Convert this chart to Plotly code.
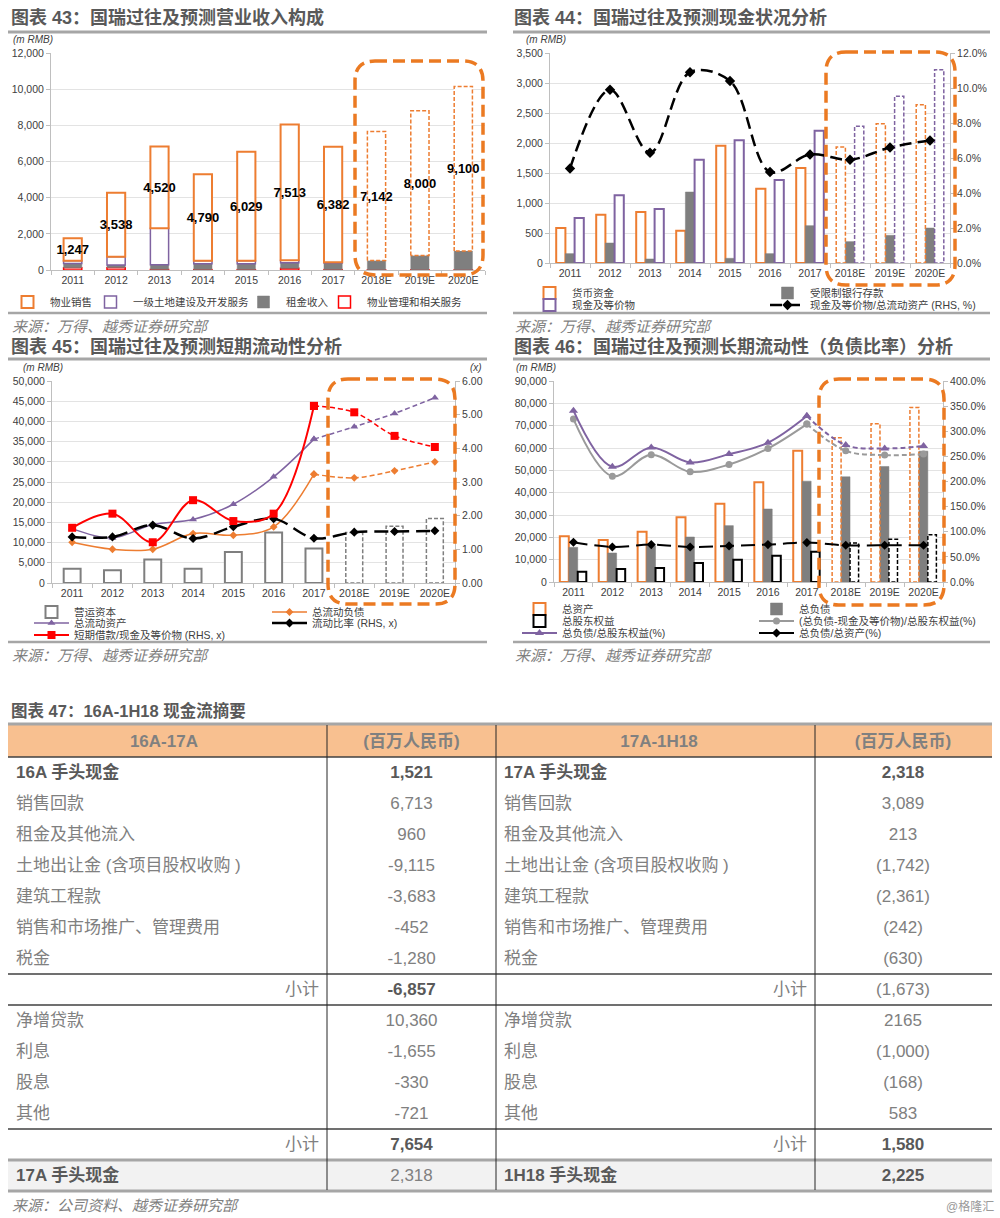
import numpy as np
import plotly.graph_objects as go

W, H = 1000, 1218
CJK = "Liberation Sans, Noto Sans CJK SC"
LAT = "Liberation Sans, Noto Sans CJK SC"
ORANGE = "#ED7D31"
PURPLE = "#7F63A1"
GRAY = "#7F7F7F"
LGRAY = "#9A9A9A"
RED = "#FF0000"
HILITE = "#EB7A22"
TXT = "#404040"

# ---------------- data ----------------
years = ["2011", "2012", "2013", "2014", "2015", "2016", "2017", "2018E", "2019E", "2020E"]

# 图表43 营业收入构成 (m RMB)
sales_43 = [1247, 3538, 4520, 4790, 6029, 7513, 6382, 7142, 8000, 9100]
land_43 = [150, 455, 2015, 158, 156, 136, 40, 0, 0, 0]
rent_43 = [240, 150, 260, 330, 330, 310, 370, 509, 796, 1044]
mgmt_43 = [120, 130, 30, 20, 20, 90, 20, 10, 10, 10]

# 图表44 现金状况 (m RMB, %)
money_44 = [583, 806, 850, 539, 1956, 1239, 1583, 1933, 2322, 2639]
restricted_44 = [156, 333, 67, 1183, 78, 156, 622, 356, 461, 583]
cash_44 = [750, 1128, 900, 1722, 2044, 1383, 2206, 2278, 2778, 3222]
cash_ratio_44 = [5.4, 9.9, 6.3, 10.9, 10.4, 5.2, 6.2, 5.9, 6.6, 7.0]

# 图表45 短期流动性 (m RMB, x)
wc_45 = [3550, 3140, 5790, 3550, 7690, 12480, 8510, 12470, 14040, 15940]
cl_45 = [10080, 8350, 8350, 12230, 11820, 13880, 26940, 26030, 27770, 30000]
ca_45 = [13470, 11160, 14460, 15700, 19500, 26280, 35620, 38680, 41980, 45870]
stb_45 = [1.64, 2.06, 1.21, 2.46, 1.84, 2.06, 5.26, 5.07, 4.37, 4.04]
cr_45 = [1.37, 1.37, 1.72, 1.32, 1.67, 1.91, 1.33, 1.51, 1.53, 1.55]

# 图表46 长期流动性 (m RMB, %)
ta_46 = [20450, 18810, 22540, 28960, 35080, 44640, 58750, 64580, 70860, 78190]
tl_46 = [15530, 12990, 16270, 20150, 25230, 32700, 45150, 47090, 51730, 58600]
te_46 = [4630, 5820, 6270, 8510, 10000, 11790, 13500, 17470, 19110, 21200]
de_46 = [340.9, 229.2, 267.8, 237.9, 254.5, 277.1, 330.2, 272.4, 265.8, 270.4]
nde_46 = [324.3, 210.6, 253.2, 219.3, 233.9, 265.8, 314.3, 261.1, 252.5, 254.5]
da_46 = [79.1, 69.8, 74.4, 69.8, 71.8, 74.4, 78.4, 73.1, 73.1, 73.1]

# 图表47 现金流摘要
tbl_header = ["16A-17A", "(百万人民币)", "17A-1H18", "(百万人民币)"]
tbl_left_items = ["16A 手头现金", "销售回款", "租金及其他流入", "土地出让金 (含项目股权收购 )", "建筑工程款",
                  "销售和市场推广、管理费用", "税金", "小计", "净增贷款", "利息", "股息", "其他", "小计", "17A 手头现金"]
tbl_left_values = ["1,521", "6,713", "960", "-9,115", "-3,683", "-452", "-1,280", "-6,857",
                   "10,360", "-1,655", "-330", "-721", "7,654", "2,318"]
tbl_right_items = ["17A 手头现金", "销售回款", "租金及其他流入", "土地出让金 (含项目股权收购 )", "建筑工程款",
                   "销售和市场推广、管理费用", "税金", "小计", "净增贷款", "利息", "股息", "其他", "小计", "1H18 手头现金"]
tbl_right_values = ["2,318", "3,089", "213", "(1,742)", "(2,361)", "(242)", "(630)", "(1,673)",
                    "2165", "(1,000)", "(168)", "583", "1,580", "2,225"]

# ---------------- helpers ----------------
idx = np.arange(len(years))
ACT = slice(0, 7)
FC = slice(7, 10)
FCL = slice(6, 10)


def PX(p):
    return p / W


def PY(p):
    return 1 - p / H


fig = go.Figure()
legends = {}


def new_legend(text_x, y_px, itemw=35):
    k = len(legends) + 1
    key = "legend" if k == 1 else f"legend{k}"
    legends[key] = dict(x=PX(text_x - itemw - 8), y=PY(y_px), xanchor="left", yanchor="middle",
                        orientation="h", bgcolor="rgba(0,0,0,0)", borderwidth=0, itemwidth=itemw,
                        font=dict(size=10.5, color=TXT, family=CJK), tracegroupgap=0,
                        itemclick=False, itemdoubleclick=False)
    return key


def bar(x, y, xa, ya, off, w, fill, lc, lw, name=None, leg=None, base=None, text=None):
    kw = {}
    if text is not None:
        kw = dict(text=text, textposition="inside", insidetextanchor="middle", textangle=0,
                  constraintext="none", textfont=dict(size=13, color="black", family=LAT, weight="bold"))
    fig.add_trace(go.Bar(x=x, y=y, base=base, xaxis=xa, yaxis=ya, offset=off, width=w,
                         marker=dict(color=fill, line=dict(color=lc, width=lw)),
                         name=name, showlegend=leg is not None, legend=leg or "legend",
                         hoverinfo="skip", **kw))


def dashed_box(x, base, top, off, w, xa, ya, color, dash="4px,2px", lw=1.5):
    X, Y = [], []
    for xc, b, t in zip(x, base, top):
        X += [xc + off, xc + off, xc + off + w, xc + off + w, xc + off, None]
        Y += [b, t, t, b, b, None]
    fig.add_trace(go.Scatter(x=X, y=Y, xaxis=xa, yaxis=ya, mode="lines",
                             line=dict(color=color, width=lw, dash=dash),
                             showlegend=False, hoverinfo="skip"))


def line(x, y, xa, ya, color, width, dash, symbol, size, name=None, leg=None):
    fig.add_trace(go.Scatter(x=x, y=y, xaxis=xa, yaxis=ya, mode="lines+markers",
                             line=dict(color=color, width=width, dash=dash, shape="spline", smoothing=1.0),
                             marker=dict(symbol=symbol, size=size, color=color),
                             name=name, showlegend=leg is not None, legend=leg or "legend",
                             hoverinfo="skip"))


# ---------------- 图表43 ----------------
m43 = np.array(mgmt_43, float)
r43 = np.array(rent_43, float)
l43 = np.array(land_43, float)
s43 = np.array(sales_43, float)
b_r = m43
b_l = m43 + r43
b_s = m43 + r43 + l43
lab43 = [f"{v:,}" for v in sales_43]
W43, O43 = 0.42, -0.21
land_plot = [v if v > 0 else None for v in land_43]

bar(idx, m43, "x", "y", O43, W43, "white", RED, 1.5, "物业管理和相关服务", new_legend(365, 302))
bar(idx, r43, "x", "y", O43, W43, GRAY, GRAY, 0.5, "租金收入", new_legend(284, 302), base=b_r)
bar(idx, land_plot, "x", "y", O43, W43, "white", PURPLE, 1.5, "一级土地建设及开发服务", new_legend(131, 302), base=b_l)
bar(idx[ACT], s43[ACT], "x", "y", O43, W43, "white", ORANGE, 2, "物业销售", new_legend(48, 302),
    base=b_s[ACT], text=lab43[ACT])
bar(idx[FC], s43[FC], "x", "y", O43, W43, "white", "white", 0, base=b_s[FC], text=lab43[FC])
dashed_box(idx[FC], b_s[FC], (b_s + s43)[FC], O43, W43, "x", "y", ORANGE)

# ---------------- 图表44 ----------------
mo = np.array(money_44, float)
ca = np.array(cash_44, float)
zero = np.zeros(len(years))
bar(idx[ACT], mo[ACT], "x2", "y2", -0.345, 0.23, "white", ORANGE, 2, "货币资金", new_legend(570, 293))
bar(idx[FC], mo[FC], "x2", "y2", -0.345, 0.23, "white", "white", 0)
dashed_box(idx[FC], zero[FC], mo[FC], -0.345, 0.23, "x2", "y2", ORANGE)
bar(idx, restricted_44, "x2", "y2", -0.115, 0.23, GRAY, GRAY, 0.5, "受限制银行存款", new_legend(808, 293))
bar(idx[ACT], ca[ACT], "x2", "y2", 0.115, 0.23, "white", PURPLE, 2, "现金及等价物", new_legend(570, 305))
bar(idx[FC], ca[FC], "x2", "y2", 0.115, 0.23, "white", "white", 0)
dashed_box(idx[FC], zero[FC], ca[FC], 0.115, 0.23, "x2", "y2", PURPLE)
line(idx, cash_ratio_44, "x2", "y3", "black", 2.5, "12px,6px", "diamond", 8,
     "现金及等价物/总流动资产 (RHS, %)", new_legend(808, 305))

# ---------------- 图表45 ----------------
wc = np.array(wc_45, float)
bar(idx[ACT], wc[ACT], "x3", "y4", -0.21, 0.42, "white", GRAY, 2, "营运资本", new_legend(72, 612))
bar(idx[FC], wc[FC], "x3", "y4", -0.21, 0.42, "white", "white", 0)
dashed_box(idx[FC], zero[FC], wc[FC], -0.21, 0.42, "x3", "y4", GRAY)
cl = np.array(cl_45, float)
cas = np.array(ca_45, float)
line(idx[ACT], cl[ACT], "x3", "y4", ORANGE, 1.5, "solid", "diamond", 6, "总流动负债", new_legend(310, 612))
line(idx[FCL], cl[FCL], "x3", "y4", ORANGE, 1.5, "5px,3px", "diamond", 6)
line(idx[ACT], cas[ACT], "x3", "y4", PURPLE, 1.5, "solid", "triangle-up", 7, "总流动资产", new_legend(72, 623))
line(idx[FCL], cas[FCL], "x3", "y4", PURPLE, 1.5, "5px,3px", "triangle-up", 7)
line(idx, cr_45, "x3", "y5", "black", 2.5, "14px,7px", "diamond", 7, "流动比率 (RHS, x)", new_legend(310, 623))
stb = np.array(stb_45, float)
line(idx[ACT], stb[ACT], "x3", "y5", RED, 2, "solid", "square", 8, "短期借款/现金及等价物 (RHS, x)",
     new_legend(72, 635))
line(idx[FCL], stb[FCL], "x3", "y5", RED, 1.5, "5px,3px", "square", 8)

# ---------------- 图表46 ----------------
ta = np.array(ta_46, float)
te = np.array(te_46, float)
bar(idx[ACT], ta[ACT], "x4", "y6", -0.35, 0.23, "white", ORANGE, 2, "总资产", new_legend(560, 609))
bar(idx[FC], ta[FC], "x4", "y6", -0.35, 0.23, "white", "white", 0)
dashed_box(idx[FC], zero[FC], ta[FC], -0.35, 0.23, "x4", "y6", ORANGE)
bar(idx, tl_46, "x4", "y6", -0.12, 0.23, GRAY, GRAY, 0.5, "总负债", new_legend(797, 609))
bar(idx[ACT], te[ACT], "x4", "y6", 0.11, 0.22, "white", "black", 2, "总股东权益", new_legend(560, 621))
bar(idx[FC], te[FC], "x4", "y6", 0.11, 0.22, "white", "white", 0)
dashed_box(idx[FC], zero[FC], te[FC], 0.11, 0.22, "x4", "y6", "black")
nde = np.array(nde_46, float)
de = np.array(de_46, float)
line(idx[ACT], nde[ACT], "x4", "y7", LGRAY, 2, "solid", "circle", 7, "(总负债-现金及等价物)/总股东权益(%)",
     new_legend(797, 621))
line(idx[FCL], nde[FCL], "x4", "y7", LGRAY, 2, "5px,3px", "circle", 7)
line(idx[ACT], de[ACT], "x4", "y7", PURPLE, 2, "solid", "triangle-up", 8, "总负债/总股东权益(%)",
     new_legend(560, 633))
line(idx[FCL], de[FCL], "x4", "y7", PURPLE, 2, "5px,3px", "triangle-up", 8)
line(idx, da_46, "x4", "y7", "black", 2, "14px,7px", "diamond", 7, "总负债/总资产(%)", new_legend(797, 633))

# ---------------- 图表47 table (regular layer + bold layer, no markup) ----------------
bold_label_rows = {0, 13}
bold_lval_rows = {0, 7, 12}
bold_rval_rows = {0, 12, 13}
n_rows = len(tbl_left_items)


def split(vals, rows):
    reg = [("" if i in rows else v) for i, v in enumerate(vals)]
    bld = [(v if i in rows else "") for i, v in enumerate(vals)]
    return reg, bld


labL_all = ["" if t == "小计" else t for t in tbl_left_items]
labR_all = ["" if t == "小计" else t for t in tbl_right_items]
subL = ["小计" if t == "小计" else "" for t in tbl_left_items]
subR = ["小计" if t == "小计" else "" for t in tbl_right_items]
labL_r, labL_b = split(labL_all, bold_label_rows)
labR_r, labR_b = split(labR_all, bold_label_rows)
valL_r, valL_b = split(tbl_left_values, bold_lval_rows)
valR_r, valR_b = split(tbl_right_values, bold_rval_rows)
blank = [""] * n_rows

DARK, LIGHT = "#595959", "#808080"
nb = "\u00a0"
hdr = [nb * 8 + tbl_header[0], "", tbl_header[1], nb * 11 + tbl_header[2], "", tbl_header[3]]

TBL_DOMAIN = dict(x=[PX(8), PX(991)], y=[PY(1200), PY(726)])
COLW = [274, 45, 169, 274, 45, 176]
ALIGN = ["left", "right", "center", "left", "right", "center"]
CLEAR = dict(color="rgba(0,0,0,0)")
NOLINE = dict(color="rgba(0,0,0,0)", width=0)

fig.add_trace(go.Table(
    domain=TBL_DOMAIN, columnwidth=COLW,
    header=dict(values=hdr, height=31, fill=CLEAR, line=NOLINE,
                font=dict(size=17, color=LIGHT, family=CJK, weight="bold"), align="center"),
    cells=dict(values=[labL_r, subL, valL_r, labR_r, subR, valR_r], height=31,
               fill=CLEAR, line=NOLINE, align=ALIGN,
               font=dict(size=17, family=CJK, color=LIGHT)),
))
fig.add_trace(go.Table(
    domain=TBL_DOMAIN, columnwidth=COLW,
    header=dict(values=[""] * 6, height=31, fill=CLEAR, line=NOLINE,
                font=dict(size=17, color=LIGHT, family=CJK)),
    cells=dict(values=[labL_b, blank, valL_b, labR_b, blank, valR_b], height=31,
               fill=CLEAR, line=NOLINE, align=ALIGN,
               font=dict(size=17, family=CJK, color=DARK, weight="bold")),
))

# ---------------- layout ----------------


def xax(d0, d1, anchor):
    return dict(domain=[PX(d0), PX(d1)], anchor=anchor, range=[-0.5, 9.5], tickmode="array",
                tickvals=list(idx), ticktext=years, showgrid=False, zeroline=False, showline=True,
                linecolor="#BFBFBF", linewidth=1, ticks="", tickfont=dict(size=10.5, color=TXT, family=LAT),
                minor=dict(ticks="outside", ticklen=4, tickcolor="#BFBFBF", tick0=-0.5, dtick=1),
                fixedrange=True)


def yax(anchor, rng, dtick, fmt, suffix="", dom=None, side="left", overlay=None, grid=True):
    d = dict(anchor=anchor, range=rng, dtick=dtick, tick0=0, tickformat=fmt, ticksuffix=suffix, side=side,
             showgrid=grid, gridcolor="#E3E3E3", gridwidth=1, zeroline=False, showline=True,
             linecolor="#BFBFBF", ticks="outside", ticklen=4, tickcolor="#BFBFBF",
             tickfont=dict(size=10.5, color=TXT, family=LAT), fixedrange=True)
    if dom:
        d["domain"] = [PY(dom[1]), PY(dom[0])]
    if overlay:
        d["overlaying"] = overlay
    return d


def rrect(x0, y0, x1, y1, r):
    return (f"M {PX(x0 + r)},{PY(y0)} L {PX(x1 - r)},{PY(y0)} Q {PX(x1)},{PY(y0)} {PX(x1)},{PY(y0 + r)} "
            f"L {PX(x1)},{PY(y1 - r)} Q {PX(x1)},{PY(y1)} {PX(x1 - r)},{PY(y1)} "
            f"L {PX(x0 + r)},{PY(y1)} Q {PX(x0)},{PY(y1)} {PX(x0)},{PY(y1 - r)} "
            f"L {PX(x0)},{PY(y0 + r)} Q {PX(x0)},{PY(y0)} {PX(x0 + r)},{PY(y0)} Z")


shapes = []


def hline(x0, x1, y, color, w):
    shapes.append(dict(type="line", xref="paper", yref="paper", x0=PX(x0), x1=PX(x1), y0=PY(y), y1=PY(y),
                       line=dict(color=color, width=w)))


def vline(x, y0, y1, color, w):
    shapes.append(dict(type="line", xref="paper", yref="paper", x0=PX(x), x1=PX(x), y0=PY(y0), y1=PY(y1),
                       line=dict(color=color, width=w)))


def rect(x0, x1, y0, y1, fill):
    shapes.append(dict(type="rect", xref="paper", yref="paper", x0=PX(x0), x1=PX(x1), y0=PY(y1), y1=PY(y0),
                       fillcolor=fill, line=dict(width=0), layer="below"))


# chart frames
for (x0, x1, yt, yb) in [(8, 487, 32, 313), (513, 990, 32, 313), (8, 487, 359, 642), (513, 990, 359, 642)]:
    hline(x0, x1, yt, "#A6A6A6", 3)
    hline(x0, x1, yb, "#A6A6A6", 2.5)

# forecast highlight boxes
for (x0, y0, x1, y1) in [(355, 61, 483, 275), (826, 52, 955, 285), (328, 379, 455, 604), (819, 379, 944, 605)]:
    shapes.append(dict(type="path", xref="paper", yref="paper", path=rrect(x0, y0, x1, y1, 20),
                       line=dict(color=HILITE, width=3.5, dash="12px,6px"), layer="above"))

# table decoration
rect(8, 992, 725, 757, "#F8C090")
rect(8, 992, 1160, 1190, "#F2F2F2")
hline(8, 992, 724, "#A6A6A6", 3)
hline(8, 992, 757, "#404040", 1.5)
for yy in [974, 1005, 1129]:
    hline(8, 992, yy, "#404040", 1.5)
hline(8, 992, 1160, "#A6A6A6", 3)
hline(8, 992, 1191, "#A6A6A6", 3)
for xx in [327, 496, 815]:
    vline(xx, 725, 1190, "#262626", 1)

annotations = []


def ann(text, x, y, size, color, xanchor="left"):
    annotations.append(dict(text=text, x=PX(x), y=PY(y), xref="paper", yref="paper", showarrow=False,
                            xanchor=xanchor, yanchor="middle", font=dict(size=size, color=color, family=CJK)))


ann("<b>图表 43：国瑞过往及预测营业收入构成</b>", 9, 18, 18, "#595959")
ann("<b>图表 44：国瑞过往及预测现金状况分析</b>", 512, 18, 18, "#595959")
ann("<b>图表 45：国瑞过往及预测短期流动性分析</b>", 9, 347, 18, "#595959")
ann("<b>图表 46：国瑞过往及预测长期流动性（负债比率）分析</b>", 512, 347, 18, "#595959")
ann("<b>图表 47：16A-1H18 现金流摘要</b>", 9, 710, 16.5, "#595959")
for (x, y) in [(10, 326), (513, 326), (10, 655), (513, 655)]:
    ann("<i>来源：万得、越秀证券研究部</i>", x, y, 15, "#7F7F7F")
ann("<i>来源：公司资料、越秀证券研究部</i>", 10, 1205, 15, "#7F7F7F")
ann("@格隆汇", 996, 1206, 12, "#9A9A9A", xanchor="right")
for (x, y) in [(11, 40), (524, 40), (21, 367), (514, 367)]:
    ann("<i>(m RMB)</i>", x, y, 10, TXT)
ann("<i>(x)</i>", 468, 367, 10, TXT)

layout = dict(
    width=W, height=H, margin=dict(l=0, r=0, t=0, b=0, autoexpand=False),
    paper_bgcolor="white", plot_bgcolor="white", barmode="overlay",
    font=dict(family=CJK, color=TXT),
    xaxis=xax(51, 485, "y"),
    yaxis=yax("x", [0, 12000], 2000, ",d", dom=(53, 270)),
    xaxis2=xax(550, 950, "y2"),
    yaxis2=yax("x2", [0, 3500], 500, ",d", dom=(53, 263)),
    yaxis3=yax("x2", [0, 12], 2, ".1f", "%", side="right", overlay="y2", grid=False),
    xaxis3=xax(52, 455, "y4"),
    yaxis4=yax("x3", [0, 50000], 5000, ",d", dom=(381, 583)),
    yaxis5=yax("x3", [0, 6], 1, ".2f", side="right", overlay="y4", grid=False),
    xaxis4=xax(554, 943, "y6"),
    yaxis6=yax("x4", [0, 90000], 10000, ",d", dom=(381, 582)),
    yaxis7=yax("x4", [0, 400], 50, ".1f", "%", side="right", overlay="y6", grid=False),
    shapes=shapes, annotations=annotations, hovermode=False,
)
layout.update(legends)
fig.update_layout(**layout)

fig.write_html("out.html", config={"displayModeBar": False},
               post_script="document.body.style.margin='0';document.body.style.overflow='hidden';")
